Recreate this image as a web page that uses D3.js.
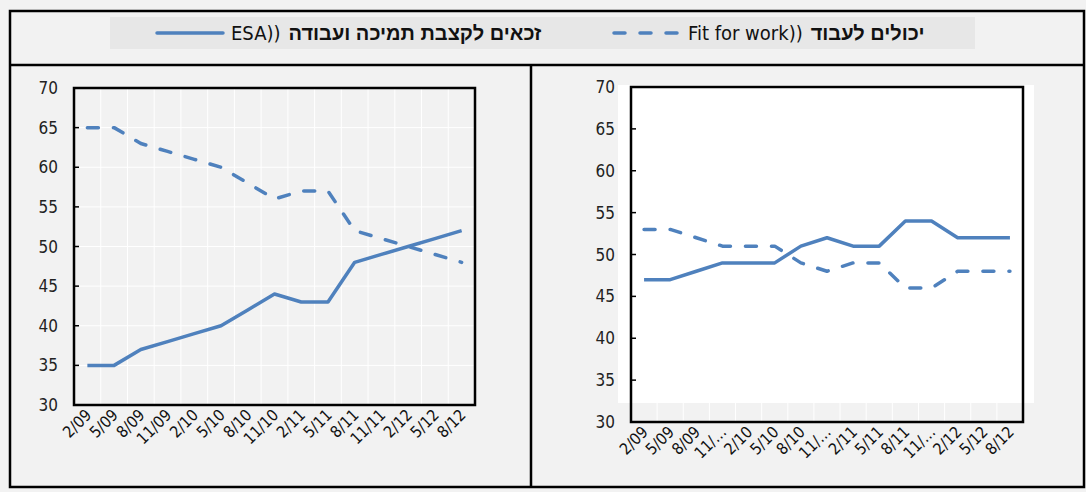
<!DOCTYPE html>
<html>
<head>
<meta charset="utf-8">
<script src="https://cdn.jsdelivr.net/npm/d3@7"></script>
<style>
  body { margin: 0; background: #f2f2f2; }
  svg { display: block; }
</style>
</head>
<body>
<svg width="1086" height="492"></svg>
<script>
// quarters shown on both panels
const months = ["2/09", "5/09", "8/09", "11/09", "2/10", "5/10", "8/10", "11/10", "2/11", "5/11", "8/11", "11/11", "2/12", "5/12", "8/12"];
const rightMonthLabels = ["2/09", "5/09", "8/09", "11/…", "2/10", "5/10", "8/10", "11/…", "2/11", "5/11", "8/11", "11/…", "2/12", "5/12", "8/12"];
const yTicks = [30, 35, 40, 45, 50, 55, 60, 65, 70];

// left panel
const esaLeft = [35, 35, 37, 38, 39, 40, 42, 44, 43, 43, 48, 49, 50, 51, 52];
const fitLeft = [65, 65, 63, 62, 61, 60, 58, 56, 57, 57, 52, 51, 50, 49, 48];
// right panel
const esaRight = [47, 47, 48, 49, 49, 49, 51, 52, 51, 51, 54, 54, 52, 52, 52];
const fitRight = [53, 53, 52, 51, 51, 51, 49, 48, 49, 49, 46, 46, 48, 48, 48];

const legendEsa = "זכאים לקצבת תמיכה ועבודה";
const legendFit = "יכולים לעבוד";

const blue = "#4f81bd";
const numFont = "'Liberation Sans Narrow', 'Arial Narrow', 'DejaVu Sans Condensed', sans-serif";
const dash = "11,15";

const svg = d3.select("svg");

// outer frame
svg.append("rect")
  .attr("x", 10).attr("y", 11).attr("width", 1074).attr("height", 476)
  .attr("fill", "none").attr("stroke", "#000").attr("stroke-width", 2.5);
svg.append("line").attr("x1", 10).attr("x2", 1084).attr("y1", 65).attr("y2", 65)
  .attr("stroke", "#000").attr("stroke-width", 2.5);
svg.append("line").attr("x1", 531).attr("x2", 531).attr("y1", 65).attr("y2", 487)
  .attr("stroke", "#000").attr("stroke-width", 2.5);

// legend
const leg = svg.append("g");
leg.append("rect").attr("x", 110).attr("y", 17).attr("width", 865).attr("height", 32).attr("fill", "#e7e7e7");

function legendItem(x0, dashed, latin, hebrew) {
  leg.append("line").attr("x1", x0).attr("x2", x0 + 66).attr("y1", 33).attr("y2", 33)
    .attr("stroke", blue).attr("stroke-width", 3.5).attr("stroke-linecap", "round")
    .attr("stroke-dasharray", dashed ? dash : null);
  const t1 = leg.append("text").attr("x", x0 + 74).attr("y", 40)
    .attr("font-family", numFont).attr("font-size", 20).attr("fill", "#111")
    .text(latin);
  const w = t1.node().getComputedTextLength();
  leg.append("text").attr("x", x0 + 74 + w + 8).attr("y", 40)
    .attr("font-family", "'Liberation Sans', 'DejaVu Sans', sans-serif")
    .attr("font-weight", "bold").attr("font-size", 20).attr("fill", "#111")
    .text(hebrew);
}
legendItem(157, false, "ESA))", legendEsa);
legendItem(614, true, "Fit for work))", legendFit);

function panel(opt) {
  const x = d3.scaleBand().domain(months).range([opt.left, opt.right]);
  const y = d3.scaleLinear().domain([30, 70]).range([opt.bottom, opt.top]);
  const g = svg.append("g");

  // vertical gridlines at category edges
  g.selectAll(".vg").data(months.slice(1)).join("line")
    .attr("x1", d => x(d)).attr("x2", d => x(d))
    .attr("y1", opt.top).attr("y2", opt.bottom)
    .attr("stroke", "#fff").attr("stroke-width", 1);

  if (opt.hgrid) {
    g.selectAll(".hg").data(yTicks.slice(1, -1)).join("line")
      .attr("x1", opt.left).attr("x2", opt.right)
      .attr("y1", d => y(d)).attr("y2", d => y(d))
      .attr("stroke", "#fff").attr("stroke-width", 1);
  }

  if (opt.white) {
    g.append("rect").attr("x", opt.white[0]).attr("y", opt.white[1])
      .attr("width", opt.white[2] - opt.white[0]).attr("height", opt.white[3] - opt.white[1]).attr("fill", "#fff");
  }

  // y axis ticks (inside) and labels
  g.selectAll(".yt").data(yTicks.slice(1, -1)).join("line")
    .attr("x1", opt.left).attr("x2", opt.left + 5)
    .attr("y1", d => y(d)).attr("y2", d => y(d))
    .attr("stroke", "#000").attr("stroke-width", 1.5);
  g.selectAll(".yl").data(yTicks).join("text")
    .attr("x", opt.labelX).attr("y", d => y(d) + 6)
    .attr("text-anchor", "end")
    .attr("font-family", numFont).attr("font-size", 17).attr("fill", "#222")
    .text(d => d);

  // x labels rotated
  g.selectAll(".xl").data(months).join("text")
    .attr("transform", d => `translate(${x(d) + x.bandwidth() / 2 + 5},${opt.bottom + 11}) rotate(-45)`)
    .attr("text-anchor", "end")
    .attr("font-family", numFont).attr("font-size", 16).attr("fill", "#111")
    .text((d, i) => opt.labels[i]);

  const line = d3.line()
    .x((d, i) => x(months[i]) + x.bandwidth() / 2)
    .y(d => y(d));

  g.append("path").datum(opt.fit).attr("d", line)
    .attr("fill", "none").attr("stroke", blue).attr("stroke-width", 3.5)
    .attr("stroke-linecap", "round").attr("stroke-linejoin", "round")
    .attr("stroke-dasharray", dash);
  g.append("path").datum(opt.esa).attr("d", line)
    .attr("fill", "none").attr("stroke", blue).attr("stroke-width", 3.5)
    .attr("stroke-linejoin", "round");

  // plot frame
  g.append("rect").attr("x", opt.left).attr("y", opt.top)
    .attr("width", opt.right - opt.left).attr("height", opt.bottom - opt.top)
    .attr("fill", "none").attr("stroke", "#000").attr("stroke-width", 2.5);
}

panel({
  left: 74, right: 475, top: 88, bottom: 405, labelX: 58,
  hgrid: true, labels: months, esa: esaLeft, fit: fitLeft
});
panel({
  left: 631, right: 1023, top: 87, bottom: 422, labelX: 615,
  hgrid: false, white: [618, 85, 1034, 403], labels: rightMonthLabels, esa: esaRight, fit: fitRight
});
</script>
</body>
</html>
